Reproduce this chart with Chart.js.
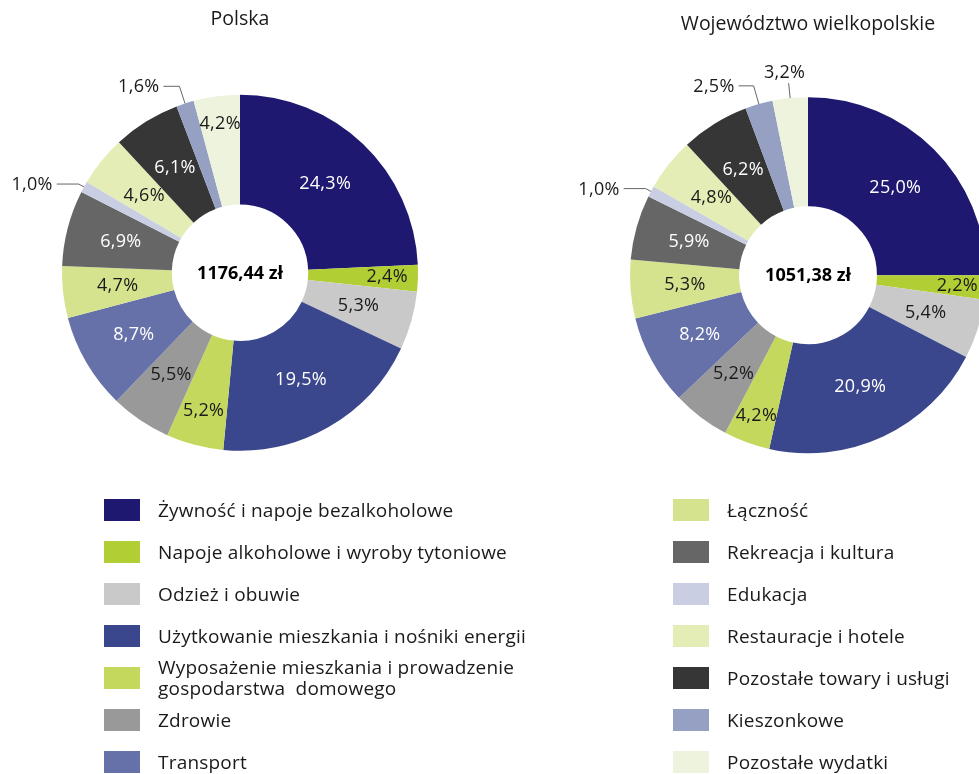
<!DOCTYPE html>
<html lang="pl">
<head>
<meta charset="utf-8">
<script src="https://cdn.jsdelivr.net/npm/chart.js@4.4.1/dist/chart.umd.min.js"></script>
<style>
  html, body { margin: 0; padding: 0; background: #fff; overflow: hidden; }
  body { width: 979px; height: 774px; position: relative; font-family: "Open Sans", sans-serif; color: #1a1a1a; }
  .wrap { position: absolute; top: 0; height: 505px; }
  #wrapLeft { left: 0; width: 480px; }
  #wrapRight { left: 570px; width: 476px; }
  .legend { position: absolute; top: 489px; }
  .legend .item { position: relative; height: 42px; font-size: 19px; line-height: 21px; letter-spacing: 0.2px; }
  .legend .box { position: absolute; left: 0; top: 10px; width: 36px; height: 22px; }
  .legend .txt { position: absolute; left: 54px; top: 0; height: 42px; display: flex; align-items: center; white-space: pre; }
  #legLeft { left: 104px; }
  #legRight { left: 673px; }
</style>
</head>
<body>
<div class="wrap" id="wrapLeft"><canvas id="chartPolska"></canvas></div>
<div class="wrap" id="wrapRight"><canvas id="chartWlkp"></canvas></div>
<div class="legend" id="legLeft"></div>
<div class="legend" id="legRight"></div>

<script>
// kategorie wydatków
const categories = [
  "Żywność i napoje bezalkoholowe",
  "Napoje alkoholowe i wyroby tytoniowe",
  "Odzież i obuwie",
  "Użytkowanie mieszkania i nośniki energii",
  "Wyposażenie mieszkania i prowadzenie\ngospodarstwa  domowego",
  "Zdrowie",
  "Transport",
  "Łączność",
  "Rekreacja i kultura",
  "Edukacja",
  "Restauracje i hotele",
  "Pozostałe towary i usługi",
  "Kieszonkowe",
  "Pozostałe wydatki"
];
const polskaValues = [24.3, 2.4, 5.3, 19.5, 5.2, 5.5, 8.7, 4.7, 6.9, 1.0, 4.6, 6.1, 1.6, 4.2];
const wlkpValues = [25.0, 2.2, 5.4, 20.9, 4.2, 5.2, 8.2, 5.3, 5.9, 1.0, 4.8, 6.2, 2.5, 3.2];
const titles = ["Polska", "Województwo wielkopolskie"];
const totals = ["1176,44 zł", "1051,38 zł"];

const colors = ["#1f1870", "#b1cf35", "#c9c9c9", "#3b478c", "#c4d85e", "#999999", "#6571a8",
  "#d5e28e", "#666666", "#c9cee2", "#e3edb5", "#363636", "#95a0c2", "#edf3dc"];
const whiteText = [0, 3, 6, 8, 11];

const FONT = "'Open Sans', sans-serif";

function fmt(v) {
  return v.toFixed(1).replace(".", ",") + "%";
}

// etykiety procentowe + suma w środku
const labelPlugin = {
  id: "sliceLabels",
  afterDatasetsDraw(chart, args, opts) {
    const ctx = chart.ctx;
    const meta = chart.getDatasetMeta(0);
    const values = chart.data.datasets[0].data;
    ctx.save();
    ctx.font = "18px " + FONT;
    ctx.letterSpacing = "0.3px";
    meta.data.forEach((arc, i) => {
      const p = arc.getProps(["x", "y", "startAngle", "endAngle", "innerRadius", "outerRadius"], true);
      const a = (p.startAngle + p.endAngle) / 2;
      const cos = Math.cos(a), sin = Math.sin(a);
      const ext = opts.outside[i];
      if (ext) {
        const x0 = p.x + cos * p.outerRadius, y0 = p.y + sin * p.outerRadius;
        const x1 = p.x + cos * (p.outerRadius + ext.ext), y1 = p.y + sin * (p.outerRadius + ext.ext);
        ctx.strokeStyle = "#666";
        ctx.lineWidth = 1;
        ctx.beginPath();
        ctx.moveTo(x0, y0);
        ctx.lineTo(x1, y1);
        ctx.fillStyle = "#1a1a1a";
        if (ext.dir === "up") {
          ctx.stroke();
          ctx.textAlign = "center";
          ctx.textBaseline = "bottom";
          ctx.fillText(fmt(values[i]), x1 - 4, y1 - 1);
        } else {
          ctx.lineTo(x1 - ext.len, y1);
          ctx.stroke();
          ctx.textAlign = "right";
          ctx.textBaseline = "middle";
          ctx.fillText(fmt(values[i]), x1 - ext.len - 4, y1 + 1);
        }
        return;
      }
      const t = opts.t[i] !== undefined ? opts.t[i] : 0.5;
      const r = p.innerRadius + t * (p.outerRadius - p.innerRadius);
      ctx.fillStyle = whiteText.includes(i) ? "#ffffff" : "#1a1a1a";
      ctx.textAlign = "center";
      ctx.textBaseline = "middle";
      ctx.fillText(fmt(values[i]), p.x + cos * r, p.y + sin * r);
    });
    const c = meta.data[0];
    ctx.font = "bold 18px " + FONT;
    ctx.letterSpacing = "0px";
    ctx.fillStyle = "#000";
    ctx.textAlign = "center";
    ctx.textBaseline = "middle";
    ctx.fillText(opts.total, c.x, c.y + 1);
    ctx.restore();
  }
};

function makeChart(id, values, title, total, titlePad, labelOpts) {
  return new Chart(document.getElementById(id), {
    type: "doughnut",
    data: {
      labels: categories,
      datasets: [{
        data: values,
        backgroundColor: colors,
        borderWidth: 0,
        hoverOffset: 0
      }]
    },
    options: {
      responsive: true,
      maintainAspectRatio: false,
      animation: false,
      radius: 178,
      cutout: 89,
      layout: { padding: 0 },
      plugins: {
        legend: { display: false },
        tooltip: { enabled: false },
        title: {
          display: true,
          text: title,
          color: "#1a1a1a",
          font: { family: FONT, size: 19.5, weight: "normal", lineHeight: 1.2 },
          padding: titlePad
        },
        sliceLabels: Object.assign({ total: total }, labelOpts)
      }
    },
    plugins: [labelPlugin]
  });
}

makeChart("chartPolska", polskaValues, titles[0], totals[0], { top: 8, bottom: 9 }, {
  t: { 1: 0.72, 4: 0.68, 13: 0.75 },
  outside: { 9: { ext: 6, len: 22 }, 12: { ext: 18, len: 16 } }
});
makeChart("chartWlkp", wlkpValues, titles[1], totals[1], { top: 13, bottom: 9 }, {
  t: { 1: 0.74, 4: 0.74 },
  outside: { 9: { ext: 6, len: 22 }, 12: { ext: 19, len: 15 }, 13: { ext: 15, dir: "up" } }
});

// legenda w dwóch kolumnach
function buildLegend(elId, from, to) {
  const el = document.getElementById(elId);
  for (let i = from; i < to; i++) {
    const item = document.createElement("div");
    item.className = "item";
    const box = document.createElement("div");
    box.className = "box";
    box.style.background = colors[i];
    const txt = document.createElement("div");
    txt.className = "txt";
    txt.textContent = categories[i];
    item.appendChild(box);
    item.appendChild(txt);
    el.appendChild(item);
  }
}
buildLegend("legLeft", 0, 7);
buildLegend("legRight", 7, 14);
</script>
</body>
</html>
